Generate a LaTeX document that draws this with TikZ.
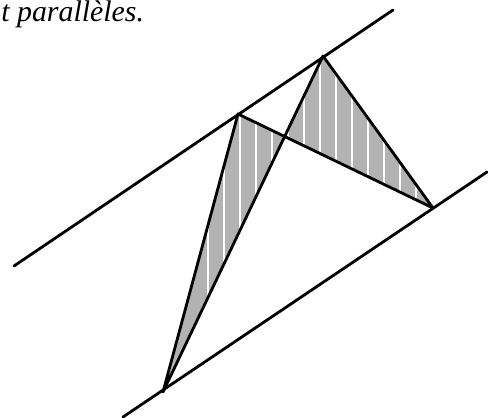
\documentclass[tikz,border=0pt]{standalone}
\usepackage{fontspec}
\setmainfont{Liberation Serif}
\usepackage{tikz}

\begin{document}
\begin{tikzpicture}[
      x=0.02cm, y=-0.02cm,
      trait/.style={line width=1.6pt, line cap=round, line join=round},
      hachure/.style={fill=black!30},
      raie/.style={white, line width=0.6pt}
    ]
    \useasboundingbox (0,0) rectangle (488,418);
    % les deux droites paralleles
    \coordinate (h1) at (14,266);
    \coordinate (h2) at (393,10);
    \coordinate (b1) at (123,417);
    \coordinate (b2) at (487,172);
    % sommets
    \coordinate (A) at (238,114);
    \coordinate (B) at (323,56);
    \coordinate (C) at (433,208);
    \coordinate (D) at (163,392);
    \coordinate (X) at (intersection of A--C and B--D);
    % triangles hachures
    \begin{scope}
      \clip (A) -- (X) -- (D) -- cycle (B) -- (X) -- (C) -- cycle;
      \fill[hachure] (0,0) rectangle (488,418);
      \foreach \x in {208,224,...,440}
        \draw[raie] (\x,0) -- (\x,418);
    \end{scope}
    \draw[trait] (h1) -- (h2);
    \draw[trait] (b1) -- (b2);
    \draw[trait] (A) -- (C) -- (B) -- (D) -- cycle;
    \node[anchor=base west, inner sep=0, font=\fontsize{17}{20}\selectfont\itshape]
      (titre) at (1,22) {t parallèles.};
  \end{tikzpicture}
\end{document}
